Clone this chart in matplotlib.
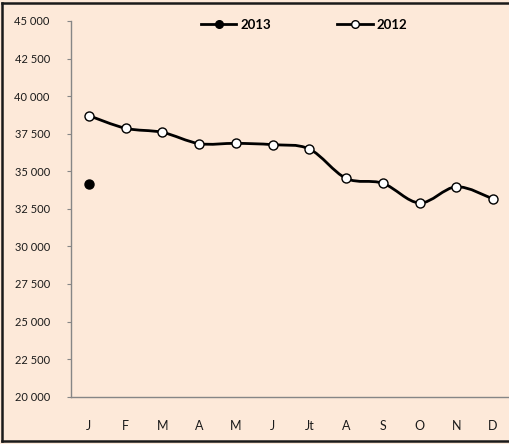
import matplotlib
matplotlib.use("Agg")
import matplotlib.pyplot as plt
from matplotlib.path import Path
from matplotlib.patches import PathPatch
from matplotlib.lines import Line2D
import numpy as np

plt.rcParams['font.family'] = ['Lato', 'DejaVu Sans']

months = ["J", "F", "M", "A", "M", "J", "Jt", "A", "S", "O", "N", "D"]
values_2012 = [38700, 37860, 37590, 36840, 36860, 36770, 36480, 34530, 34200, 32890, 33970, 33160]
values_2013 = [34150]
yticks = list(range(20000, 45001, 2500))
ytick_labels = [f"{v:,}".replace(",", " ") for v in yticks]

BG = "#FDE9D9"

fig = plt.figure(figsize=(5.10, 4.44), dpi=100, facecolor=BG)
ax = fig.add_axes([70.6 / 510, 47.3 / 444, 440.8 / 510, 375.7 / 444])
ax.set_facecolor(BG)

x12 = np.arange(len(values_2012), dtype=float)
y12 = np.array(values_2012, dtype=float)

# smooth line via cubic Bezier segments (Catmull-Rom style)
verts = [(x12[0], y12[0])]
codes = [Path.MOVETO]
n = len(x12)
t = 1.0 / 6.0
for i in range(n - 1):
    p0 = np.array([x12[max(i - 1, 0)], y12[max(i - 1, 0)]])
    p1 = np.array([x12[i], y12[i]])
    p2 = np.array([x12[i + 1], y12[i + 1]])
    p3 = np.array([x12[min(i + 2, n - 1)], y12[min(i + 2, n - 1)]])
    c1 = p1 + (p2 - p0) * t
    c2 = p2 - (p3 - p1) * t
    verts += [tuple(c1), tuple(c2), tuple(p2)]
    codes += [Path.CURVE4] * 3
patch = PathPatch(Path(verts, codes), facecolor="none", edgecolor="black",
                  linewidth=2.0, capstyle="round", joinstyle="round", zorder=3)
ax.add_patch(patch)

ax.plot(x12, y12, linestyle="none", marker="o", markersize=6.5,
        markerfacecolor="white", markeredgecolor="black", markeredgewidth=1.0, zorder=4)
ax.plot(np.arange(len(values_2013)), values_2013, linestyle="none", marker="o",
        markersize=6.5, markerfacecolor="black", markeredgecolor="black", zorder=4)

ax.set_xlim(-0.5, 11.5)
ax.set_ylim(20000, 45000)
ax.set_yticks(yticks)
ax.set_yticklabels(ytick_labels)
ax.set_xticks(x12)
ax.set_xticklabels(months)

for s in ["top", "right"]:
    ax.spines[s].set_visible(False)
for s in ["left", "bottom"]:
    ax.spines[s].set_color("#868686")
    ax.spines[s].set_linewidth(1.0)

ax.tick_params(axis="y", direction="out", length=3, color="#868686", pad=12,
               labelsize=8, labelcolor="#1a1a1a")
ax.tick_params(axis="x", length=0, pad=17, labelsize=9, labelcolor="#1a1a1a")

# legend
h13 = Line2D([], [], color="black", linewidth=2.0, marker="o", markersize=5.5,
             markerfacecolor="black", markeredgecolor="black")
h12 = Line2D([], [], color="black", linewidth=2.0, marker="o", markersize=5.5,
             markerfacecolor="white", markeredgecolor="black")
leg = fig.legend([h13, h12], ["2013", "2012"], loc="center",
                 bbox_to_anchor=(304 / 510, 1 - 25 / 444), ncol=2, frameon=False,
                 prop={"weight": "bold", "size": 9.5}, handlelength=2.7,
                 handletextpad=0.3, columnspacing=5.0)

# figure border (left, top, bottom; right side is cropped)
bx0, by0, by1 = 2.5 / 510, 1 - 441 / 444, 1 - 3 / 444
for xs, ys in [([bx0, bx0], [by0, by1]), ([bx0, 1.0], [by1, by1]), ([bx0, 1.0], [by0, by0])]:
    fig.add_artist(Line2D(xs, ys, transform=fig.transFigure, color="#1a1a1a",
                          linewidth=1.8, solid_capstyle="projecting"))

fig.savefig("out.png", dpi=100, facecolor=BG)
